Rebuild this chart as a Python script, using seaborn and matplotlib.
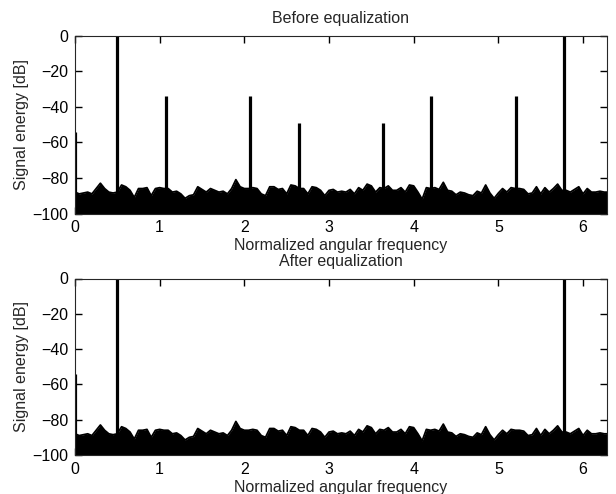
import numpy as np
import pandas as pd
import matplotlib
matplotlib.use("Agg")
import matplotlib.pyplot as plt
import seaborn as sns

# ---- data ----
# frequency grid of the noise-floor envelope (rad)
noise_freq = np.round(np.arange(127) * 0.05, 2)
# upper envelope of the noise floor (dB)
noise_top = [
    -88, -89, -88.5, -88, -89, -86, -83, -86, -88, -88.5,
    -88, -84, -85, -87, -91, -86, -86, -85.5, -90, -86,
    -85.5, -86, -86, -88, -87.5, -89, -91.5, -90, -89.5, -85,
    -86.5, -88, -86, -87, -88, -87.5, -89, -86, -81, -85,
    -86, -86, -85.5, -86, -89, -90, -85, -85, -86.5, -86,
    -89, -84, -84.5, -86, -86, -89, -85, -85.5, -87, -90,
    -87, -86.5, -88, -87.5, -88, -86.5, -89, -85.5, -87, -83.5,
    -84.5, -88, -85.5, -86, -84.5, -87, -87, -85.5, -88, -84,
    -84.5, -88, -92, -85.5, -86, -85.5, -86.5, -82.5, -87, -87.5,
    -89.5, -88, -88.5, -89.5, -90, -87.5, -88.5, -84, -88.5, -91.5,
    -88.5, -86, -88, -85.5, -86, -86, -86.5, -89, -88.5, -85,
    -89, -85.5, -88, -86, -83.5, -87, -87, -88, -86.5, -85,
    -89, -86, -88, -88, -87.5, -88, -88,
]
noise_floor = -100

# spectral lines before equalization
before_freq = [0.0, 0.50, 1.07, 2.07, 2.64, 3.64, 4.21, 5.21, 5.78]
before_level = [-54, 0, -34, -34, -49, -49, -34, -34, 0]
# spectral lines after equalization
after_freq = [0.0, 0.50, 5.78]
after_level = [-54, 0, 0]

titles = ["Before equalization", "After equalization"]
xlabel = "Normalized angular frequency"
ylabel = "Signal energy [dB]"
xticks = [0, 1, 2, 3, 4, 5, 6]
yticks = [0, -20, -40, -60, -80, -100]

# ---- styling ----
sns.set_style("white")
plt.rcParams["font.family"] = ["Liberation Sans", "DejaVu Sans"]
plt.rcParams["font.size"] = 11.5

fig = plt.figure(figsize=(6.16, 4.94), dpi=100)
W, H = 616, 494
ax_top = fig.add_axes([75 / W, (H - 213.5) / H, 532 / W, 178 / H])
ax_bot = fig.add_axes([75 / W, (H - 455) / H, 532 / W, 176.5 / H])

noise_df = pd.DataFrame({"freq": noise_freq, "level": noise_top})

for ax, title, sf, sl in [
    (ax_top, titles[0], before_freq, before_level),
    (ax_bot, titles[1], after_freq, after_level),
]:
    sns.lineplot(data=noise_df, x="freq", y="level", ax=ax,
                 color="black", linewidth=1.3, estimator=None)
    ax.fill_between(noise_df["freq"], noise_floor, noise_df["level"],
                    color="black", linewidth=0)
    ax.vlines(sf, noise_floor, sl, color="black", linewidth=2.3)
    ax.set_xlim(0, 2 * np.pi)
    ax.set_ylim(-100, 0)
    ax.set_xticks(xticks)
    ax.set_yticks(yticks)
    ax.set_title(title, fontsize=11.5, pad=9)
    ax.set_xlabel(xlabel, fontsize=11.5, labelpad=2)
    ax.set_ylabel(ylabel, fontsize=11.5, labelpad=2)

for ax in (ax_top, ax_bot):
    ax.xaxis.set_ticks_position("both")
    ax.yaxis.set_ticks_position("both")
    ax.tick_params(direction="in", length=5, width=1, colors="k",
                   labelsize=11.5, pad=5)

fig.savefig("out.png", dpi=100)
